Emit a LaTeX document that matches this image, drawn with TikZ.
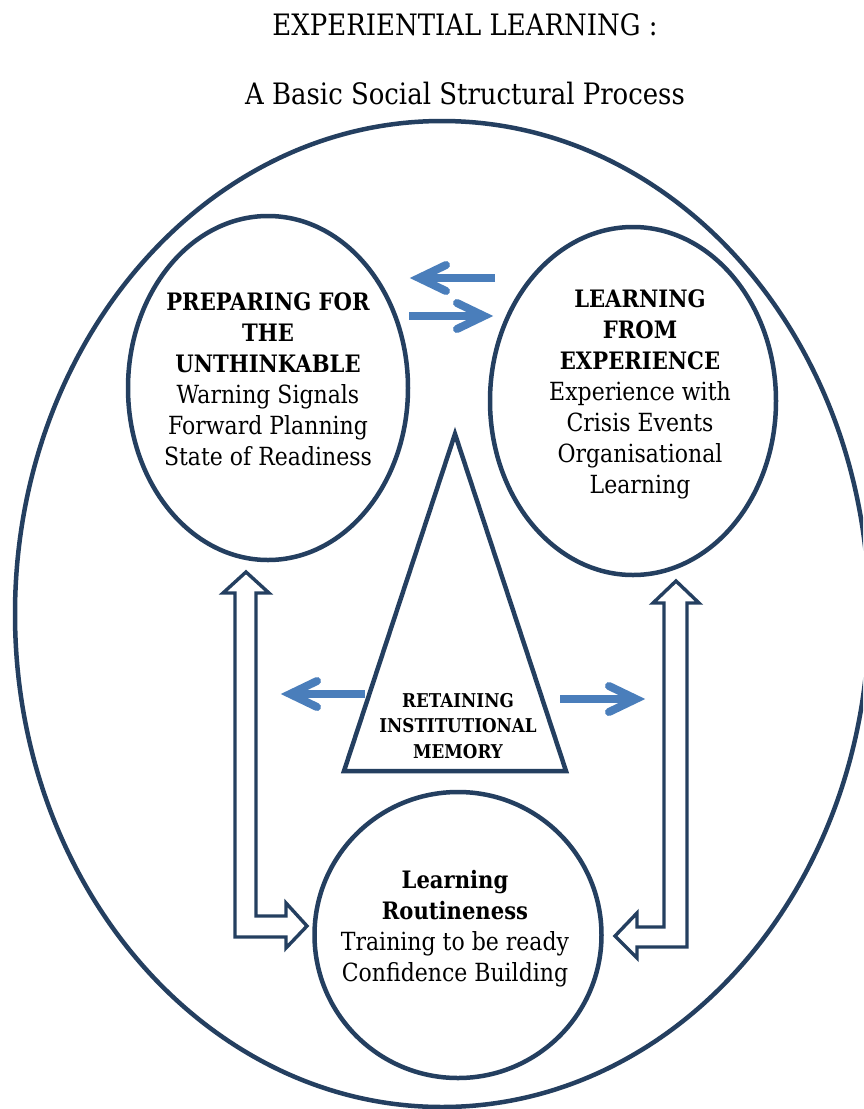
\documentclass[tikz,border=0pt]{standalone}
\usepackage{fontspec}
\setmainfont{DejaVu Serif}[FakeStretch=0.88]
\usetikzlibrary{shapes.geometric}
\definecolor{navy}{RGB}{36,63,96}
\definecolor{bluearr}{RGB}{74,126,187}
\newcommand{\hd}[1]{{\fontsize{24}{31}\selectfont\bfseries #1}}
\begin{document}
\begin{tikzpicture}[x=1pt,y=-1pt,
  ring/.style={draw=navy, line width=4.5pt, ellipse, inner sep=0pt},
  txt/.style={align=center, font=\fontsize{25}{31}\selectfont, inner sep=0pt},
  tritxt/.style={align=center, font=\fontsize{19}{25.5}\selectfont\bfseries, inner sep=0pt},
  ttl/.style={font=\fontsize{29.5}{32}\selectfont, inner sep=0pt},
  bshaft/.style={draw=bluearr, line width=8pt},
  bhead/.style={draw=bluearr, line width=8pt, line cap=round, line join=miter},
  hollow/.style={draw=navy, fill=white, line width=3.4pt, line join=miter}]
\useasboundingbox (0,0) rectangle (863,1109);
\fill[white] (0,0) rectangle (863,1109);
% titles
\node[ttl] (title) at (465,25) {EXPERIENTIAL LEARNING :};
\node[ttl] (subtitle) at (465,93) {A Basic Social Structural Process};
% outer ellipse
\begin{scope}
\clip (0,0) rectangle (863,1109);
\node[ring, minimum width=854pt, minimum height=986pt] (outer) at (442,614) {};
\end{scope}
% inner ellipses
\node[ring, minimum width=280pt, minimum height=344pt] (prep) at (268,388) {};
\node[ring, minimum width=286pt, minimum height=348pt] (learn) at (633,401) {};
\node[ring, minimum width=287pt, minimum height=286pt] (rout) at (458,935) {};
% texts
\node[txt] (preptext) at (268,379) {\hd{PREPARING FOR}\\\hd{THE}\\\hd{UNTHINKABLE}\\Warning Signals\\Forward Planning\\State of Readiness};
\node[txt] (learntext) at (640,394) {\hd{LEARNING}\\\hd{FROM}\\\hd{EXPERIENCE}\\Experience with\\Crisis Events\\Organisational\\Learning};
\node[txt] (routtext) at (455,929) {\hd{Learning}\\\hd{Routineness}\\Training to be ready\\Confidence Building};
% triangle
\coordinate (apex) at (455,434);
\coordinate (bright) at (566,771);
\coordinate (bleft) at (344,771);
\draw[navy, line width=4.5pt, line join=miter] (apex) -- (bright) -- (bleft) -- cycle;
\node[tritxt] (memtext) at (458,726) {RETAINING\\INSTITUTIONAL\\MEMORY};
% blue arrows top
\coordinate (a1s) at (495,278); \coordinate (a1t) at (419,278);
\draw[bshaft] (a1s) -- (a1t);
\draw[bhead] ([shift={(27,-13)}]a1t) -- (a1t) -- ([shift={(27,13)}]a1t);
\coordinate (a2s) at (409,316); \coordinate (a2t) at (484,316);
\draw[bshaft] (a2s) -- (a2t);
\draw[bhead] ([shift={(-27,-13)}]a2t) -- (a2t) -- ([shift={(-27,13)}]a2t);
% blue arrows middle
\coordinate (a3s) at (365,694); \coordinate (a3t) at (290,694);
\draw[bshaft] (a3s) -- (a3t);
\draw[bhead] ([shift={(27,-13)}]a3t) -- (a3t) -- ([shift={(27,13)}]a3t);
\coordinate (a4s) at (560,699); \coordinate (a4t) at (636,699);
\draw[bshaft] (a4s) -- (a4t);
\draw[bhead] ([shift={(-27,-13)}]a4t) -- (a4t) -- ([shift={(-27,13)}]a4t);
% hollow bent arrows
\draw[hollow] (246,572) -- (269,593) -- (256,593) -- (256,916) -- (286,916) -- (286,903)
  -- (307,926) -- (286,948) -- (286,937) -- (235,937) -- (235,593) -- (223,593) -- cycle;
\draw[hollow] (676,581) -- (699,603) -- (687,603) -- (687,947) -- (637,947) -- (637,958)
  -- (615,936) -- (637,913) -- (637,927) -- (664,927) -- (664,603) -- (653,603) -- cycle;
\end{tikzpicture}
\end{document}
